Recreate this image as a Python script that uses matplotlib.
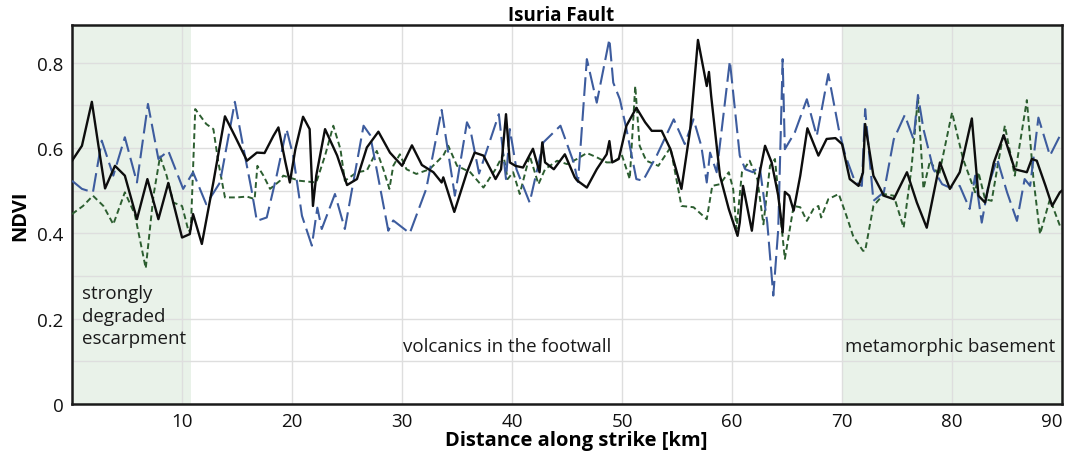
import matplotlib
matplotlib.use("Agg")
import matplotlib.pyplot as plt

plt.rcParams['font.family'] = ['Open Sans', 'DejaVu Sans']

# ---- data ----
black_x = [0, 0.9, 1.8, 2.4, 3.0, 3.9, 4.8, 5.9, 6.85, 7.85, 8.75, 10.0, 10.7, 11.0, 11.8,
           12.85, 13.9, 14.8, 15.9, 16.8, 17.5, 18.3, 18.76, 19.4, 19.8, 20.3, 21.0, 21.6,
           21.9, 22.2, 23.0, 24.1, 25.0, 25.9, 26.8, 27.85, 28.9, 30.0, 30.9, 31.8, 32.85,
           33.6, 33.75, 34.75, 35.9, 36.6, 37.4, 38.5, 39.0, 39.45, 39.8, 40.3, 41.0, 41.9,
           42.5, 42.75, 43.0, 43.8, 44.8, 45.7, 45.9, 46.8, 47.7, 48.6, 48.85, 49.1, 49.7,
           50.4, 51.3, 52.1, 52.7, 53.6, 54.4, 55.4, 56.2, 56.9, 57.7, 57.9, 58.1, 58.9, 59.7,
           60.5, 60.7, 61.0, 61.8, 62.4, 63.0, 63.6, 64.2, 64.6, 64.8, 65.2, 65.6, 66.2, 66.85,
           67.85, 68.6, 69.4, 70.0, 70.7, 71.5, 71.9, 72.1, 72.85, 73.8, 74.7, 75.9, 76.8,
           77.7, 78.9, 79.8, 80.7, 81.8, 82.4, 83.0, 83.8, 84.7, 85.7, 86.8, 87.25, 87.7,
           88.5, 89.1, 89.8, 90.0]
black_y = [0.570, 0.605, 0.708, 0.605, 0.505, 0.558, 0.535, 0.433, 0.527, 0.433, 0.518, 0.390,
           0.398, 0.445, 0.375, 0.520, 0.674, 0.628, 0.570, 0.589, 0.588, 0.628, 0.648, 0.566,
           0.519, 0.597, 0.673, 0.644, 0.464, 0.535, 0.644, 0.582, 0.513, 0.527, 0.601, 0.638,
           0.589, 0.558, 0.606, 0.560, 0.543, 0.519, 0.531, 0.450, 0.543, 0.589, 0.582, 0.527,
           0.550, 0.679, 0.566, 0.558, 0.554, 0.598, 0.543, 0.613, 0.566, 0.550, 0.585, 0.531,
           0.524, 0.507, 0.550, 0.585, 0.616, 0.566, 0.574, 0.652, 0.694, 0.660, 0.640, 0.640,
           0.597, 0.504, 0.644, 0.853, 0.745, 0.778, 0.722, 0.535, 0.457, 0.394, 0.425, 0.511,
           0.406, 0.527, 0.605, 0.566, 0.488, 0.402, 0.497, 0.488, 0.453, 0.535, 0.646, 0.582,
           0.621, 0.623, 0.609, 0.527, 0.511, 0.542, 0.656, 0.535, 0.488, 0.480, 0.543, 0.472,
           0.413, 0.566, 0.504, 0.543, 0.669, 0.488, 0.472, 0.566, 0.630, 0.550, 0.543, 0.574,
           0.570, 0.511, 0.464, 0.496, 0.500]

blue_x = [0, 0.9, 1.9, 2.7, 3.75, 4.8, 5.9, 6.9, 7.85, 8.75, 10.1, 11.0, 12.2, 13.45, 14.8,
          15.6, 16.3, 16.8, 17.7, 18.6, 19.5, 20.1, 20.9, 21.8, 22.3, 22.7, 23.9, 24.8, 26.5,
          27.1, 28.75, 29.2, 30.7, 32.2, 33.6, 34.8, 35.9, 36.2, 37.0, 38.8, 39.45, 39.8, 40.4,
          41.6, 42.85, 44.4, 45.6, 46.0, 46.6, 46.8, 47.7, 48.85, 49.2, 49.8, 50.4, 51.3, 51.9,
          53.15, 54.7, 55.7, 56.5, 57.2, 57.7, 58.0, 58.6, 59.8, 60.7, 61.2, 61.9, 62.5, 63.2,
          63.75, 64.2, 64.6, 64.8, 65.7, 66.8, 67.7, 68.75, 69.7, 70.3, 71.2, 71.8, 72.1, 72.85,
          73.8, 74.7, 75.7, 76.5, 76.9, 77.4, 78.3, 79.1, 79.8, 80.7, 81.6, 82.1, 82.7, 83.3,
          84.1, 85.0, 85.9, 86.6, 87.1, 87.85, 88.9, 89.8, 90.0]
blue_y = [0.523, 0.504, 0.496, 0.617, 0.535, 0.625, 0.519, 0.703, 0.574, 0.593, 0.504, 0.543,
          0.468, 0.519, 0.708, 0.597, 0.504, 0.429, 0.437, 0.535, 0.644, 0.582, 0.441, 0.371,
          0.460, 0.410, 0.492, 0.410, 0.652, 0.630, 0.406, 0.430, 0.400, 0.504, 0.689, 0.488,
          0.660, 0.644, 0.540, 0.679, 0.527, 0.644, 0.550, 0.472, 0.613, 0.652, 0.566, 0.520,
          0.738, 0.808, 0.706, 0.855, 0.753, 0.714, 0.644, 0.527, 0.523, 0.582, 0.667, 0.609,
          0.667, 0.605, 0.519, 0.589, 0.543, 0.804, 0.582, 0.550, 0.543, 0.558, 0.425, 0.254,
          0.410, 0.808, 0.597, 0.636, 0.714, 0.628, 0.773, 0.644, 0.582, 0.519, 0.511, 0.691,
          0.476, 0.496, 0.620, 0.677, 0.620, 0.724, 0.644, 0.550, 0.515, 0.507, 0.511, 0.457,
          0.535, 0.425, 0.511, 0.574, 0.496, 0.429, 0.527, 0.511, 0.671, 0.582, 0.628, 0.620]

green_x = [0, 1.0, 1.9, 2.85, 3.75, 4.8, 5.7, 6.7, 7.4, 8.0, 8.6, 9.2, 10.0, 10.6, 10.8,
           11.2, 12.2, 12.85, 13.3, 13.9, 15.0, 15.9, 16.6, 16.85, 17.4, 18.0, 18.9, 19.2,
           20.7, 22.2, 23.0, 23.75, 24.4, 24.8, 25.9, 26.8, 27.7, 28.3, 28.85, 29.2, 29.8,
           30.4, 31.3, 32.5, 33.75, 34.2, 35.0, 36.2, 37.4, 38.5, 39.2, 39.6, 40.1, 40.7, 41.6,
           42.4, 43.0, 44.1, 45.0, 45.9, 46.8, 47.7, 48.6, 49.2, 50.0, 50.7, 51.2, 51.6, 52.2,
           53.3, 54.4, 55.4, 56.5, 57.7, 58.2, 58.9, 59.7, 60.1, 60.4, 60.9, 61.6, 62.3, 62.85,
           63.45, 63.9, 64.4, 64.8, 65.6, 66.2, 66.8, 67.4, 67.85, 68.1, 68.75, 69.7, 70.4,
           71.0, 71.9, 72.1, 72.85, 73.8, 74.7, 75.6, 76.3, 76.9, 77.4, 78.0, 78.8, 80.0, 81.0,
           82.1, 82.4, 83.0, 83.6, 84.2, 84.8, 85.7, 86.8, 87.4, 88.0, 88.9, 89.8, 90.0]
green_y = [0.445, 0.464, 0.488, 0.464, 0.421, 0.496, 0.445, 0.318, 0.488, 0.580, 0.535, 0.472,
           0.464, 0.404, 0.410, 0.691, 0.656, 0.644, 0.566, 0.484, 0.484, 0.486, 0.480, 0.558,
           0.535, 0.504, 0.523, 0.535, 0.523, 0.519, 0.582, 0.652, 0.597, 0.523, 0.543, 0.547,
           0.593, 0.550, 0.504, 0.558, 0.585, 0.550, 0.539, 0.550, 0.582, 0.605, 0.558, 0.543,
           0.507, 0.550, 0.585, 0.527, 0.543, 0.492, 0.582, 0.515, 0.550, 0.570, 0.562, 0.574,
           0.588, 0.578, 0.566, 0.566, 0.582, 0.527, 0.745, 0.605, 0.570, 0.558, 0.601, 0.464,
           0.461, 0.433, 0.511, 0.515, 0.543, 0.504, 0.410, 0.543, 0.570, 0.527, 0.421, 0.558,
           0.574, 0.441, 0.340, 0.464, 0.461, 0.429, 0.457, 0.464, 0.437, 0.480, 0.492, 0.441,
           0.394, 0.359, 0.359, 0.464, 0.492, 0.488, 0.413, 0.550, 0.718, 0.504, 0.570, 0.535,
           0.683, 0.574, 0.496, 0.543, 0.480, 0.476, 0.566, 0.652, 0.535, 0.712, 0.527, 0.398,
           0.480, 0.418, 0.410]

x_tick_labels = ['', '10', '20', '30', '40', '50', '60', '70', '80', '90']
y_tick_labels = ['0', '', '0.2', '', '0.4', '', '0.6', '', '0.8']
shaded_spans = [(0, 10.8), (70, 90)]
annotations = [("strongly\ndegraded\nescarpment", 0.9, 0.207),
               ("volcanics in the footwall", 30.1, 0.136),
               ("metamorphic basement", 70.3, 0.137)]

# ---- figure ----
fig = plt.figure(figsize=(10.69, 4.6), dpi=100)
ax = fig.add_axes([0.0674, 0.1196, 0.9261, 0.8239])

for a, b in shaded_spans:
    ax.axvspan(a, b, color='#e9f2e9', zorder=0, lw=0)

ax.set_xlim(0, 90)
ax.set_ylim(0, 0.888)
ax.set_xticks(range(0, 91, 10))
ax.set_xticklabels(x_tick_labels)
ax.get_xticklabels()[-1].set_horizontalalignment('right')
ax.set_yticks([i / 10 for i in range(0, 9)])
ax.set_yticklabels(y_tick_labels)
ax.grid(True, color='#dedede', lw=1.0, zorder=1)
ax.set_axisbelow(True)
ax.tick_params(length=0, labelsize=13.5, pad=6, colors='#111111')
for s in ax.spines.values():
    s.set_linewidth(1.8)
    s.set_color('#1a1a1a')

ax.plot(green_x, green_y, color='#2c5e30', lw=1.4, ls=(0, (3, 1.8)), zorder=3)
ax.plot(blue_x, blue_y, color='#3d5c9e', lw=1.5, ls=(0, (9, 3)), zorder=3)
ax.plot(black_x, black_y, color='#0d0d0d', lw=1.7, zorder=4)

for txt, xx, yy in annotations:
    ax.text(xx, yy, txt, fontsize=13.5, ha='left', va='center', linespacing=1.3,
            color='#1a1a1a', zorder=5)

ax.set_title('Isuria Fault', fontsize=13.5, fontweight='bold', pad=3)
ax.title.set_x(0.494)
ax.set_xlabel('Distance along strike [km]', fontsize=14.5, fontweight='bold', labelpad=0)
ax.xaxis.label.set_x(0.509)
ax.set_ylabel('NDVI', fontsize=14.5, fontweight='bold', labelpad=5)

fig.savefig('out.png', dpi=100)
